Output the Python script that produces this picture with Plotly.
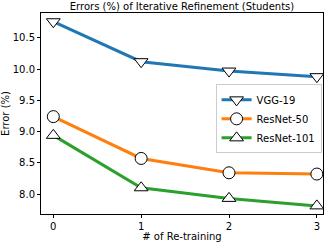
import plotly.graph_objects as go

x_vals = [0, 1, 2, 3]
vgg19 = [10.76, 10.12, 9.97, 9.88]
resnet50 = [9.24, 8.57, 8.34, 8.32]
resnet101 = [8.94, 8.10, 7.93, 7.81]

series = [
    ("VGG-19", vgg19, "#1f77b4", "triangle-down"),
    ("ResNet-50", resnet50, "#ff7f0e", "circle"),
    ("ResNet-101", resnet101, "#2ca02c", "triangle-up"),
]

fig = go.Figure()
for name, ys, color, sym in series:
    fig.add_trace(go.Scatter(
        x=x_vals, y=ys, name=name, mode="lines+markers",
        line=dict(color=color, width=3),
        marker=dict(symbol=sym, size=12, color="white", line=dict(color="black", width=1)),
    ))

font = "DejaVu Sans, sans-serif"
fig.update_layout(
    width=332, height=242,
    margin=dict(l=41, r=9, t=13, b=28),
    paper_bgcolor="white", plot_bgcolor="white",
    font=dict(family=font, size=10, color="black"),
    title=dict(text="Errors (%) of Iterative Refinement (Students)", x=0.5, xref="paper",
               xanchor="center", y=0.975, yanchor="middle", font=dict(size=10, family=font)),
    showlegend=True,
    legend=dict(x=0.995, xanchor="right", y=0.645, yanchor="top",
                bgcolor="white", bordercolor="#cccccc", borderwidth=1,
                font=dict(size=10, family=font), tracegroupgap=0),
    xaxis=dict(range=[-0.14, 3.07], tickvals=x_vals, ticktext=["0", "1", "2", "3"],
               ticks="outside", ticklen=3, tickcolor="black", showgrid=False, zeroline=False,
               showline=True, linecolor="black", linewidth=1, mirror=True, automargin=False,
               title=dict(text="# of Re-training", standoff=0, font=dict(size=10))),
    yaxis=dict(range=[7.68, 10.9], tickvals=[8.0, 8.5, 9.0, 9.5, 10.0, 10.5],
               ticktext=["8.0", "8.5", "9.0", "9.5", "10.0", "10.5"],
               ticks="outside", ticklen=3, tickcolor="black", showgrid=False, zeroline=False,
               showline=True, linecolor="black", linewidth=1, mirror=True, automargin=False,
               title=dict(text="Error (%)", standoff=4, font=dict(size=10))),
)

fig.write_html("out.html", config={"displayModeBar": False},
               post_script="document.body.style.margin='0';")
